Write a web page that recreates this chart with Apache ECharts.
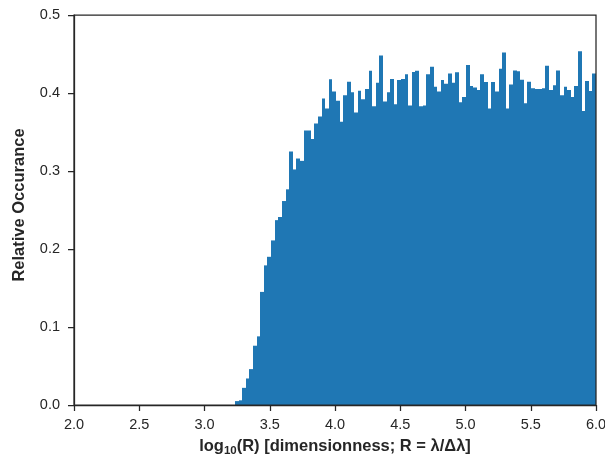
<!DOCTYPE html>
<html>
<head>
<meta charset="utf-8">
<title>Resolution histogram</title>
<script src="https://cdn.jsdelivr.net/npm/echarts@6/dist/echarts.min.js"></script>
<style>
  html, body { margin: 0; padding: 0; background: #ffffff; }
  #chart { width: 605px; height: 454px; }
</style>
</head>
<body>
<div id="chart"></div>
<script>
// Histogram range in log10(R) and the fraction of spectra per bin
const binStart = 3.2337;
const binEnd = 6.0;
const occurrence = [
  0.005, 0.006, 0.022, 0.034, 0.046, 0.076, 0.088, 0.145, 0.179, 0.190,
  0.211, 0.237, 0.241, 0.2615, 0.2765, 0.325, 0.302, 0.316, 0.313, 0.352,
  0.352, 0.341, 0.361, 0.370, 0.393, 0.380, 0.4175, 0.402, 0.390, 0.363,
  0.397, 0.4145, 0.401, 0.375, 0.403, 0.392, 0.405, 0.4286, 0.383, 0.413,
  0.448, 0.389, 0.401, 0.418, 0.3855, 0.4167, 0.418, 0.424, 0.384, 0.427,
  0.4286, 0.383, 0.384, 0.424, 0.4338, 0.408, 0.402, 0.4167, 0.412, 0.425,
  0.413, 0.4265, 0.388, 0.395, 0.436, 0.409, 0.407, 0.404, 0.424, 0.414,
  0.380, 0.414, 0.402, 0.431, 0.452, 0.380, 0.411, 0.429, 0.428, 0.417,
  0.387, 0.4145, 0.406, 0.405, 0.405, 0.406, 0.435, 0.404, 0.410, 0.429,
  0.397, 0.408, 0.404, 0.395, 0.409, 0.4535, 0.377, 0.4154, 0.4026, 0.425
];

// Axis ranges and tick steps
const xRange = [2.0, 6.0];
const xStep = 0.5;
const yRange = [0.0, 0.5];
const yStep = 0.1;

const barColor = '#1f77b4';
const inkColor = '#262626';
const fontFamily = '"Liberation Sans", Arial, Helvetica, sans-serif';
const tickFont = 14.5;
const titleFont = 16.5;

const binWidth = (binEnd - binStart) / occurrence.length;
const bins = occurrence.map((v, i) => [
  binStart + i * binWidth,
  binStart + (i + 1) * binWidth,
  v
]);

const chart = echarts.init(document.getElementById('chart'), null, { renderer: 'canvas' });

chart.setOption({
  animation: false,
  backgroundColor: '#ffffff',
  grid: {
    left: 74, right: 9, top: 15, bottom: 49,
    containLabel: false,
    outerBoundsMode: 'none',
    show: true,
    borderColor: inkColor,
    borderWidth: 1.25,
    backgroundColor: 'transparent',
    z: 5
  },
  xAxis: {
    type: 'value',
    min: xRange[0], max: xRange[1], interval: xStep,
    z: 6,
    name: '{t|log}{s|10}{t|(R) [dimensionness; R = λ/Δλ]}',
    nameLocation: 'middle',
    nameGap: 25,
    nameTextStyle: {
      rich: {
        t: { fontFamily, fontSize: titleFont, fontWeight: 'bold', color: inkColor, lineHeight: 20, verticalAlign: 'middle' },
        s: { fontFamily, fontSize: 11.5, fontWeight: 'bold', color: inkColor, lineHeight: 20, verticalAlign: 'bottom', padding: [7, 0, 0, 0] }
      }
    },
    axisLine: { show: true, lineStyle: { color: inkColor, width: 1.25 } },
    axisTick: { show: true, inside: false, length: 6, lineStyle: { color: inkColor, width: 1.25 } },
    axisLabel: {
      fontFamily, fontSize: tickFont, color: inkColor, margin: 12.5,
      formatter: v => v.toFixed(1)
    },
    splitLine: { show: false }
  },
  yAxis: {
    type: 'value',
    min: yRange[0], max: yRange[1], interval: yStep,
    z: 6,
    name: 'Relative Occurance',
    nameLocation: 'middle',
    nameGap: 46.5,
    nameTextStyle: {
      fontFamily, fontSize: titleFont, fontWeight: 'bold', color: inkColor,
      padding: [0, 0, 0, 10]
    },
    axisLine: { show: true, lineStyle: { color: inkColor, width: 1.25 } },
    axisTick: { show: true, inside: false, length: 6, lineStyle: { color: inkColor, width: 1.25 } },
    axisLabel: {
      fontFamily, fontSize: tickFont, color: inkColor, margin: 14,
      formatter: v => v.toFixed(1)
    },
    splitLine: { show: false }
  },
  series: [{
    type: 'custom',
    z: 1,
    data: bins,
    encode: { x: [0, 1], y: 2 },
    clip: true,
    renderItem: (params, api) => {
      const top = api.coord([api.value(0), api.value(2)]);
      const base = api.coord([api.value(1), 0]);
      // snap bin edges to whole pixels so neighbouring bars join without seams
      const x0 = Math.round(top[0]);
      const x1 = Math.round(base[0]);
      return {
        type: 'rect',
        shape: { x: x0, y: top[1], width: x1 - x0, height: base[1] - top[1] },
        style: { fill: barColor }
      };
    }
  }]
});
</script>
</body>
</html>
